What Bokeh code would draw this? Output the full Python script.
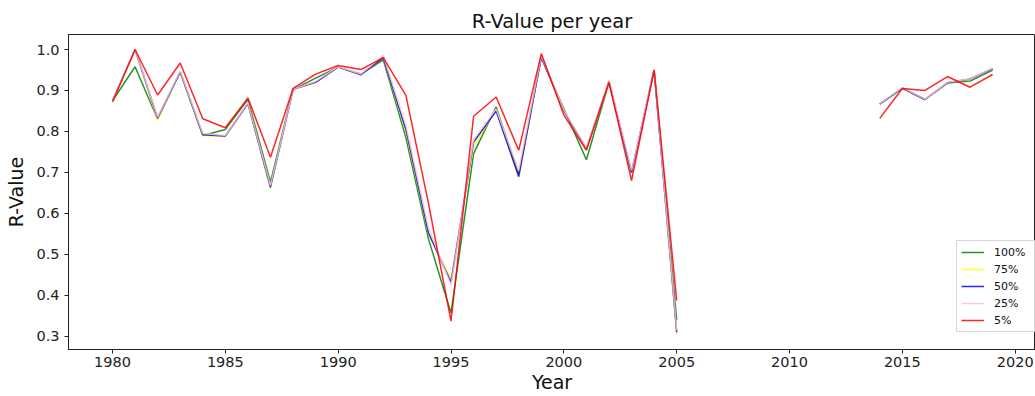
import math

from bokeh.embed import file_html
from bokeh.models import FixedTicker, Legend, NumeralTickFormatter, Range1d
from bokeh.plotting import figure
from bokeh.resources import INLINE

NAN = math.nan

years = list(range(1980, 2020))

# R-values per year for each sample share; 2006-2013 have no data
r_100 = [0.875, 0.958, 0.830, 0.945, 0.790, 0.805, 0.878, 0.676, 0.902, 0.930,
         0.957, 0.940, 0.975, 0.785, 0.538, 0.357, 0.746, 0.860, 0.695, 0.980,
         0.855, 0.731, 0.920, 0.700, 0.950, 0.340,
         NAN, NAN, NAN, NAN, NAN, NAN, NAN, NAN,
         0.867, 0.905, 0.878, 0.918, 0.923, 0.950]
r_75 = [0.875, 0.998, 0.828, 0.945, 0.790, 0.788, 0.868, 0.660, 0.902, 0.920,
        0.957, 0.938, 0.980, 0.800, 0.550, 0.440, 0.765, 0.852, 0.688, 0.982,
        0.850, 0.755, 0.920, 0.700, 0.950, 0.307,
        NAN, NAN, NAN, NAN, NAN, NAN, NAN, NAN,
        0.867, 0.906, 0.878, 0.919, 0.927, 0.953]
r_50 = [0.875, 1.000, 0.833, 0.945, 0.792, 0.789, 0.868, 0.664, 0.903, 0.920,
        0.957, 0.938, 0.980, 0.805, 0.553, 0.432, 0.774, 0.850, 0.690, 0.982,
        0.850, 0.758, 0.922, 0.700, 0.950, 0.310,
        NAN, NAN, NAN, NAN, NAN, NAN, NAN, NAN,
        0.867, 0.906, 0.878, 0.919, 0.928, 0.953]
r_25 = [0.875, 1.000, 0.835, 0.947, 0.795, 0.790, 0.870, 0.668, 0.903, 0.922,
        0.958, 0.940, 0.985, 0.815, 0.565, 0.425, 0.780, 0.855, 0.705, 0.985,
        0.852, 0.760, 0.925, 0.705, 0.952, 0.315,
        NAN, NAN, NAN, NAN, NAN, NAN, NAN, NAN,
        0.868, 0.907, 0.879, 0.920, 0.928, 0.954]
r_5 = [0.872, 1.000, 0.889, 0.967, 0.831, 0.809, 0.882, 0.737, 0.905, 0.940,
       0.961, 0.951, 0.980, 0.888, 0.625, 0.337, 0.837, 0.884, 0.754, 0.990,
       0.840, 0.754, 0.920, 0.680, 0.950, 0.388,
       NAN, NAN, NAN, NAN, NAN, NAN, NAN, NAN,
       0.832, 0.905, 0.900, 0.934, 0.908, 0.939]

series_labels = ["100%", "75%", "50%", "25%", "5%"]
series_colors = ["green", "yellow", "blue", "pink", "red"]
series_values = [r_100, r_75, r_50, r_25, r_5]

x_ticks = [1980, 1985, 1990, 1995, 2000, 2005, 2010, 2015, 2020]
y_ticks = [0.3, 0.4, 0.5, 0.6, 0.7, 0.8, 0.9, 1.0]

FONT = "DejaVu Sans"

p = figure(
    width=1035, height=396,
    output_backend="svg", toolbar_location=None,
    x_range=Range1d(1978.05, 2020.9), y_range=Range1d(0.268, 1.0366),
    min_border_left=68, min_border_right=0, min_border_top=34, min_border_bottom=47,
    title="R-Value per year",
)
p.background_fill_color = "white"
p.border_fill_color = "white"
p.outline_line_color = "#222222"
p.outline_line_width = 1
p.grid.visible = False

p.title.align = "center"
p.title.text_font = FONT
p.title.text_font_size = "19.5px"
p.title.text_font_style = "normal"
p.title.text_color = "#111111"
p.title.standoff = 4

for ax in (p.xaxis[0], p.yaxis[0]):
    ax.axis_line_color = "#222222"
    ax.major_tick_line_color = "#222222"
    ax.major_tick_out = 4
    ax.major_tick_in = 0
    ax.minor_tick_line_color = None
    ax.major_label_text_font = FONT
    ax.major_label_text_font_size = "14.5px"
    ax.major_label_text_color = "#222222"
    ax.axis_label_text_font = FONT
    ax.axis_label_text_font_size = "19px"
    ax.axis_label_text_font_style = "normal"
    ax.axis_label_text_color = "#111111"

p.xaxis.ticker = FixedTicker(ticks=x_ticks)
p.yaxis.ticker = FixedTicker(ticks=y_ticks)
p.yaxis.formatter = NumeralTickFormatter(format="0.0")
p.xaxis.axis_label = "Year"
p.yaxis.axis_label = "R-Value"
p.xaxis.major_label_standoff = 3
p.xaxis.axis_label_standoff = 1
p.yaxis.major_label_standoff = 5
p.yaxis.axis_label_standoff = 6

items = []
for label, color, vals in zip(series_labels, series_colors, series_values):
    r = p.line(years, vals, line_color=color, line_width=1.5, line_alpha=0.85)
    items.append((label, [r]))

legend = Legend(items=items, location=(888, 17))
legend.label_text_font = FONT
legend.label_text_font_size = "11px"
legend.label_text_color = "#111111"
legend.glyph_width = 23
legend.glyph_height = 14
legend.label_height = 14
legend.label_width = 37
legend.label_standoff = 10
legend.spacing = 3
legend.padding = 4
legend.margin = 0
legend.border_line_color = "#cccccc"
legend.border_line_alpha = 0.8
legend.background_fill_color = "white"
legend.background_fill_alpha = 0.8
p.add_layout(legend, "center")

open("out.html", "w").write(file_html(p, INLINE))
